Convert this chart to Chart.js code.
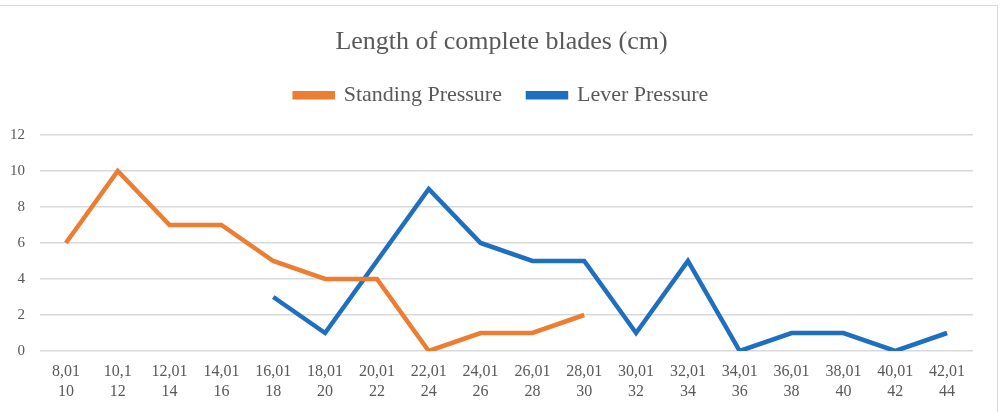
<!DOCTYPE html>
<html>
<head>
<meta charset="utf-8">
<script src="https://cdn.jsdelivr.net/npm/chart.js@4/dist/chart.umd.min.js"></script>
<style>
    body { margin: 0; background: #fff; }
    #wrap { position: relative; width: 1003px; height: 412px; }
    #frame { position: absolute; left: -1px; top: 5px; width: 997px; height: 420px; border: 1px solid #d9d9d9; }
</style>
</head>
<body>
<div id="wrap">
    <div id="frame"></div>
    <canvas id="chart" width="1003" height="412"></canvas>
</div>
<script>
// Length classes (cm), two-line labels like the original
const categories = [
    ['8,01', '10'], ['10,1', '12'], ['12,01', '14'], ['14,01', '16'], ['16,01', '18'],
    ['18,01', '20'], ['20,01', '22'], ['22,01', '24'], ['24,01', '26'], ['26,01', '28'],
    ['28,01', '30'], ['30,01', '32'], ['32,01', '34'], ['34,01', '36'], ['36,01', '38'],
    ['38,01', '40'], ['40,01', '42'], ['42,01', '44']
];

const standingPressure = [6, 10, 7, 7, 5, 4, 4, 0, 1, 1, 2, null, null, null, null, null, null, null];
const leverPressure = [null, null, null, null, 3, 1, 5, 9, 6, 5, 5, 1, 5, 0, 1, 1, 0, 1];

const yTicks = [0, 2, 4, 6, 8, 10, 12];

const serif = '"Liberation Serif", "Times New Roman", serif';
const textColor = '#595959';

const ctx = document.getElementById('chart').getContext('2d');
new Chart(ctx, {
    type: 'line',
    data: {
        labels: categories,
        datasets: [
            {
                label: 'Standing Pressure',
                data: standingPressure,
                borderColor: '#ED7D31',
                backgroundColor: '#ED7D31',
                borderWidth: 4.5,
                pointRadius: 0,
                tension: 0,
                spanGaps: false
            },
            {
                label: 'Lever Pressure',
                data: leverPressure,
                borderColor: '#1F6FC1',
                backgroundColor: '#1F6FC1',
                borderWidth: 4.5,
                pointRadius: 0,
                tension: 0,
                spanGaps: false
            }
        ]
    },
    options: {
        responsive: false,
        animation: false,
        layout: { padding: 0 },
        plugins: {
            title: {
                display: true,
                text: 'Length of complete blades (cm)',
                color: textColor,
                font: { family: serif, size: 26, weight: 'normal' },
                padding: { top: 27, bottom: 0 }
            },
            legend: {
                display: true,
                position: 'top',
                labels: {
                    color: textColor,
                    font: { family: serif, size: 22 },
                    boxWidth: 38,
                    boxHeight: 4,
                    padding: 26
                }
            },
            // empty spacer below the legend (lower weight puts it under it)
            subtitle: {
                display: true,
                text: ' ',
                weight: 500,
                font: { size: 1 },
                padding: { top: 0, bottom: 17.6 }
            },
            tooltip: { enabled: false }
        },
        scales: {
            x: {
                offset: true,
                grid: { display: false },
                border: { display: false },
                ticks: {
                    color: textColor,
                    font: { family: serif, size: 16, lineHeight: 1.25 },
                    maxRotation: 0,
                    autoSkip: false,
                    padding: 3
                },
                afterFit: axis => { axis.height = 61; }
            },
            y: {
                min: 0,
                max: 12,
                afterBuildTicks: axis => { axis.ticks = yTicks.map(v => ({ value: v })); },
                grid: { color: '#d9d9d9', lineWidth: 1.5, drawTicks: false },
                border: { display: false },
                ticks: {
                    color: textColor,
                    font: { family: serif, size: 15 },
                    padding: 15
                },
                afterFit: axis => { axis.width = 40; }
            },
            // blank right margin so the title and legend stay centred on the canvas
            yRight: {
                position: 'right',
                display: true,
                grid: { display: false },
                border: { display: false },
                ticks: { display: false },
                afterFit: axis => { axis.width = 30; }
            }
        }
    }
});
</script>
</body>
</html>
